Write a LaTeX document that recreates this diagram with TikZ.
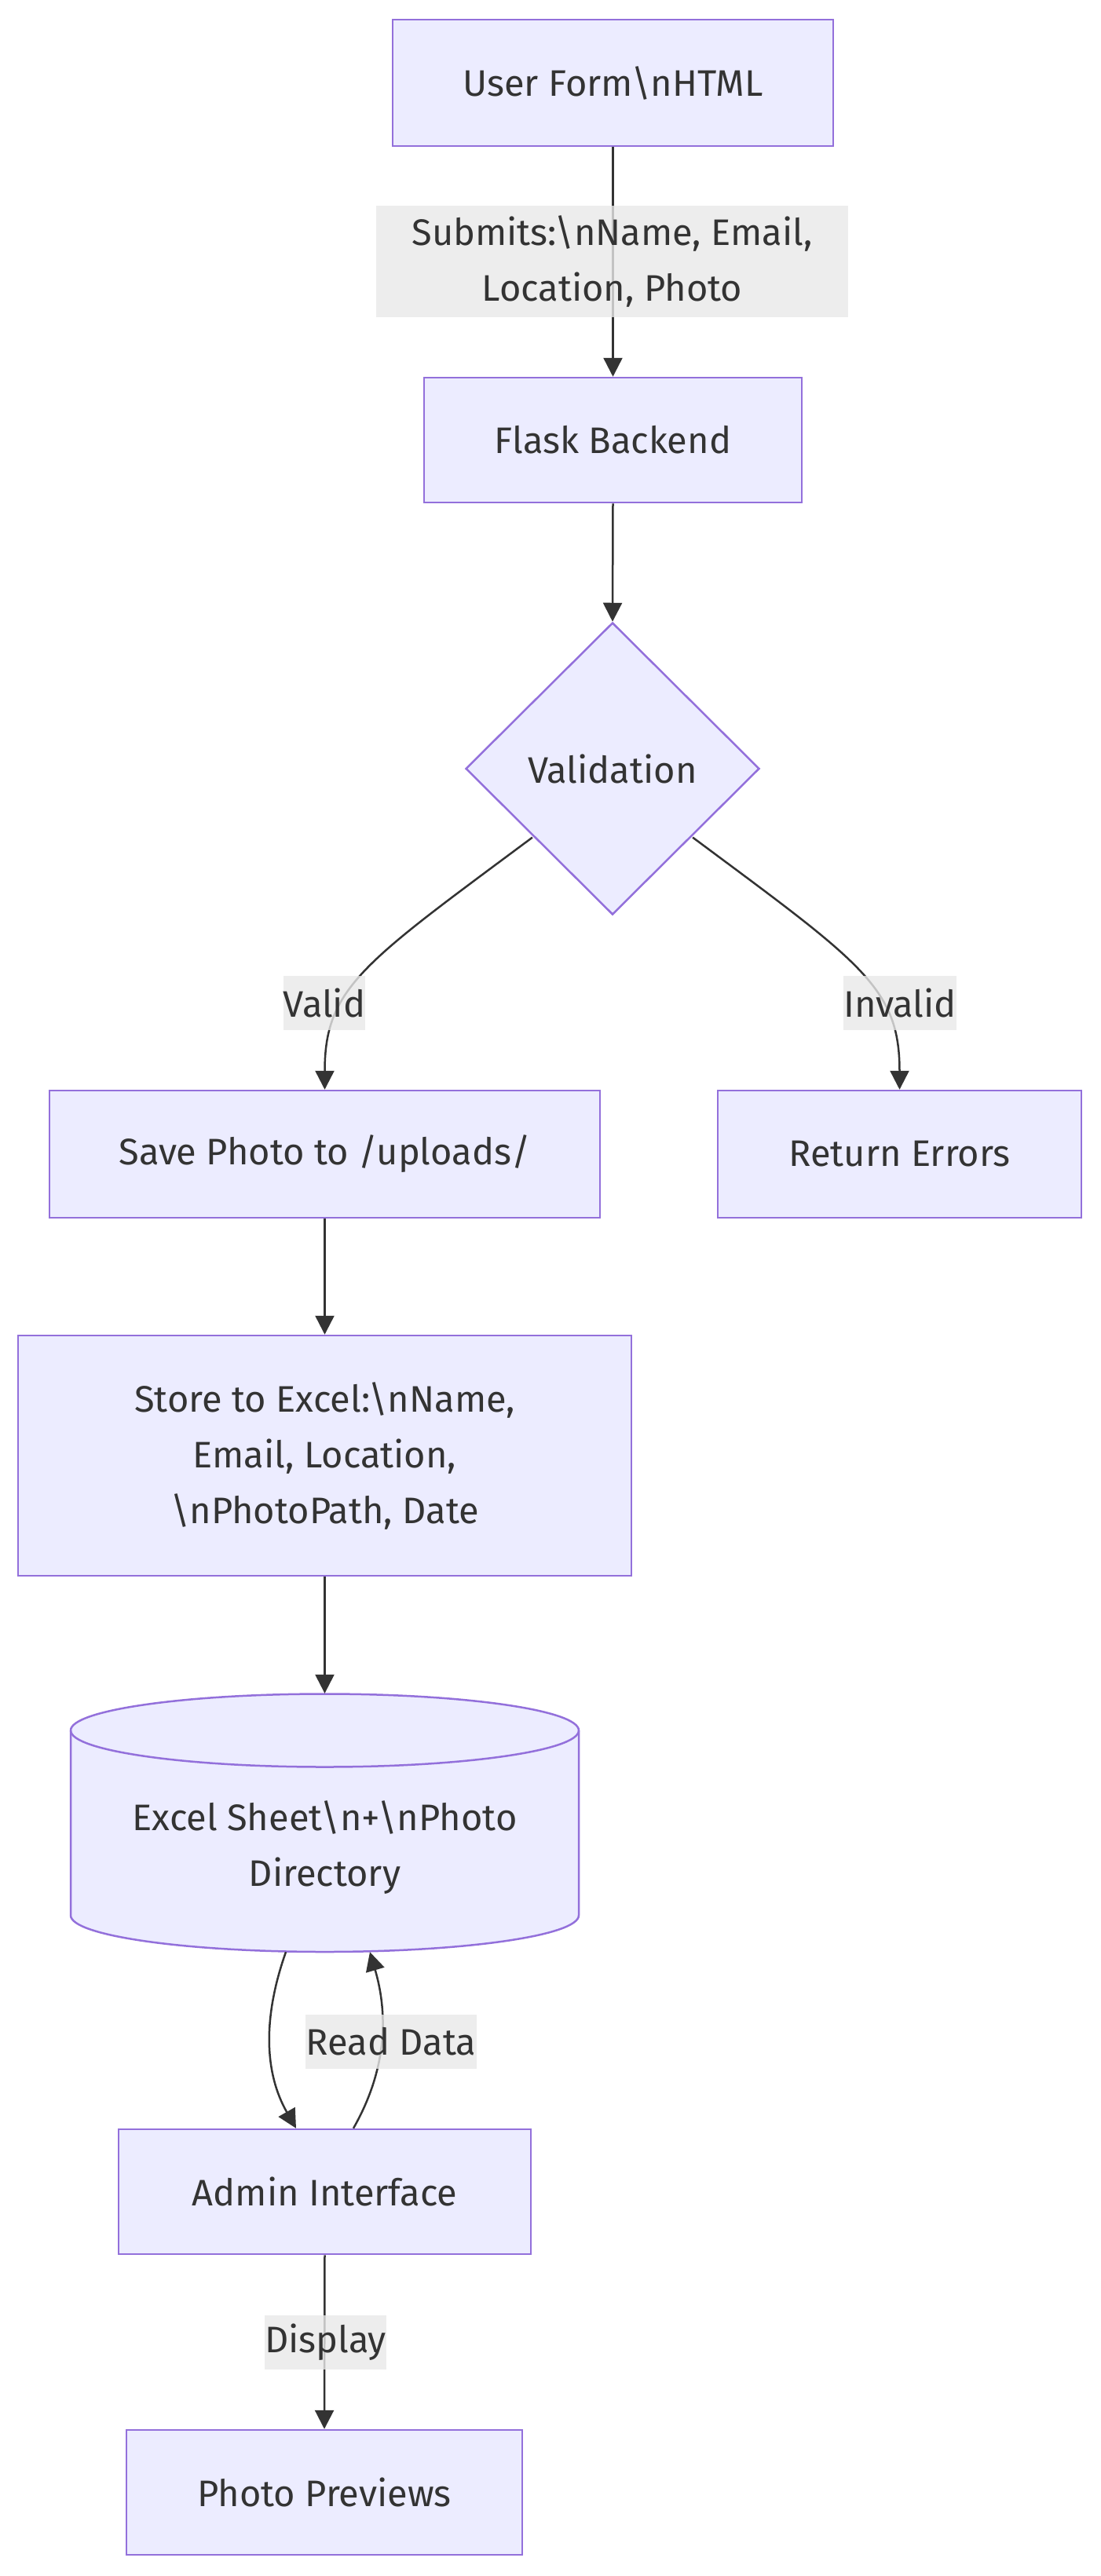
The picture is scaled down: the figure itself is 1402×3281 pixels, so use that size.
\documentclass[tikz,border=0pt]{standalone}
\usepackage{fontspec}
\setmainfont{Fira Sans}
\usetikzlibrary{arrows.meta,shapes.geometric,calc}
\definecolor{nodefill}{HTML}{ECECFF}
\definecolor{nodeline}{HTML}{9370DB}
\definecolor{ink}{HTML}{333333}
\definecolor{lblbg}{HTML}{E8E8E8}
\begin{document}
\begin{tikzpicture}[x=1pt,y=1pt,
  txtfont/.style={font=\fontsize{47}{71}\selectfont},
  box/.style={draw=nodeline, fill=nodefill, line width=2.5pt, text=ink, align=center, inner sep=0pt, txtfont},
  lbl/.style={fill=lblbg, fill opacity=0.8, text opacity=1, text=ink, inner sep=0pt, align=center, txtfont},
  conn/.style={draw=ink, line width=2.5pt, -{Triangle[length=24pt,width=24pt]}},
  ]
\useasboundingbox (0,0) rectangle (1402,-3281);

% cylinder shape
\filldraw[draw=nodeline, fill=nodefill, line width=2.5pt]
  (90,-2204) -- (90,-2439.5) arc (180:360:323.5 and 46.5) -- (737,-2204) arc (0:180:323.5 and 46.5) -- cycle;
\draw[draw=nodeline, line width=2.5pt] (90,-2204) arc (180:360:323.5 and 46.5);

\node[box, minimum width=561pt, minimum height=161pt] (user) at (780.5,-105.5) {User Form\textbackslash nHTML};
\node[box, minimum width=481pt, minimum height=159pt] (flask) at (780.5,-560.5) {Flask Backend};
\node[box, diamond, aspect=1, minimum width=374pt, minimum height=372pt] (val) at (780,-979) {Validation};
\node[box, minimum width=701pt, minimum height=162pt] (save) at (413.5,-1470) {Save Photo to /uploads/};
\node[box, minimum width=463pt, minimum height=162pt] (ret) at (1145.5,-1470) {Return Errors};
\node[box, minimum width=781pt, minimum height=306pt] (store) at (413.5,-1854) {Store to Excel:\textbackslash nName,\\Email, Location,\\\textbackslash nPhotoPath, Date};
\node[minimum width=647pt, minimum height=329pt, inner sep=0pt] (cyl) at (413.5,-2321.5) {};
\node[text=ink, align=center, inner sep=0pt, txtfont] (cyltxt) at (413.5,-2353) {Excel Sheet\textbackslash n+\textbackslash nPhoto\\Directory};
\node[box, minimum width=525pt, minimum height=159pt] (admin) at (413.5,-2791.5) {Admin Interface};
\node[box, minimum width=504pt, minimum height=159pt] (prev) at (413,-3174.5) {Photo Previews};

% connectors
\draw[conn] (user.south) -- (flask.north);
\draw[conn] (flask.south) -- (val.north);
\draw[conn] ($(val.south west)+(-8,6)$) .. controls +(-215,-160) and +(0,130) .. (save.north);
\draw[conn] ($(val.south east)+(8,6)$) .. controls +(215,-160) and +(0,130) .. (ret.north);
\draw[conn] (save.south) -- (store.north);
\draw[conn] (store.south) -- (cyl.north);
\draw[conn] ($(cyl.south)+(-49.5,0)$) .. controls +(-30,-85) and +(-40,70) .. ($(admin.north)+(-36.5,0)$);
\draw[conn] ($(admin.north)+(36.5,0)$) .. controls +(40,70) and +(25,-85) .. ($(cyl.south)+(57.5,0)$);
\draw[conn] (admin.south) -- (prev.north);

% labels
\node[lbl, minimum width=601pt, minimum height=142pt] (lsub) at (779.5,-333) {Submits:\textbackslash nName, Email,\\Location, Photo};
\node[lbl, minimum width=102pt, minimum height=69pt] (lvalid) at (413,-1277) {Valid};
\node[lbl, minimum width=140pt, minimum height=69pt] (linvalid) at (1146,-1277) {Invalid};
\node[lbl, minimum width=218pt, minimum height=69pt] (lread) at (498,-2600) {Read Data};
\node[lbl, minimum width=151pt, minimum height=69pt] (ldisp) at (414.5,-2983) {Display};
\end{tikzpicture}
\end{document}
